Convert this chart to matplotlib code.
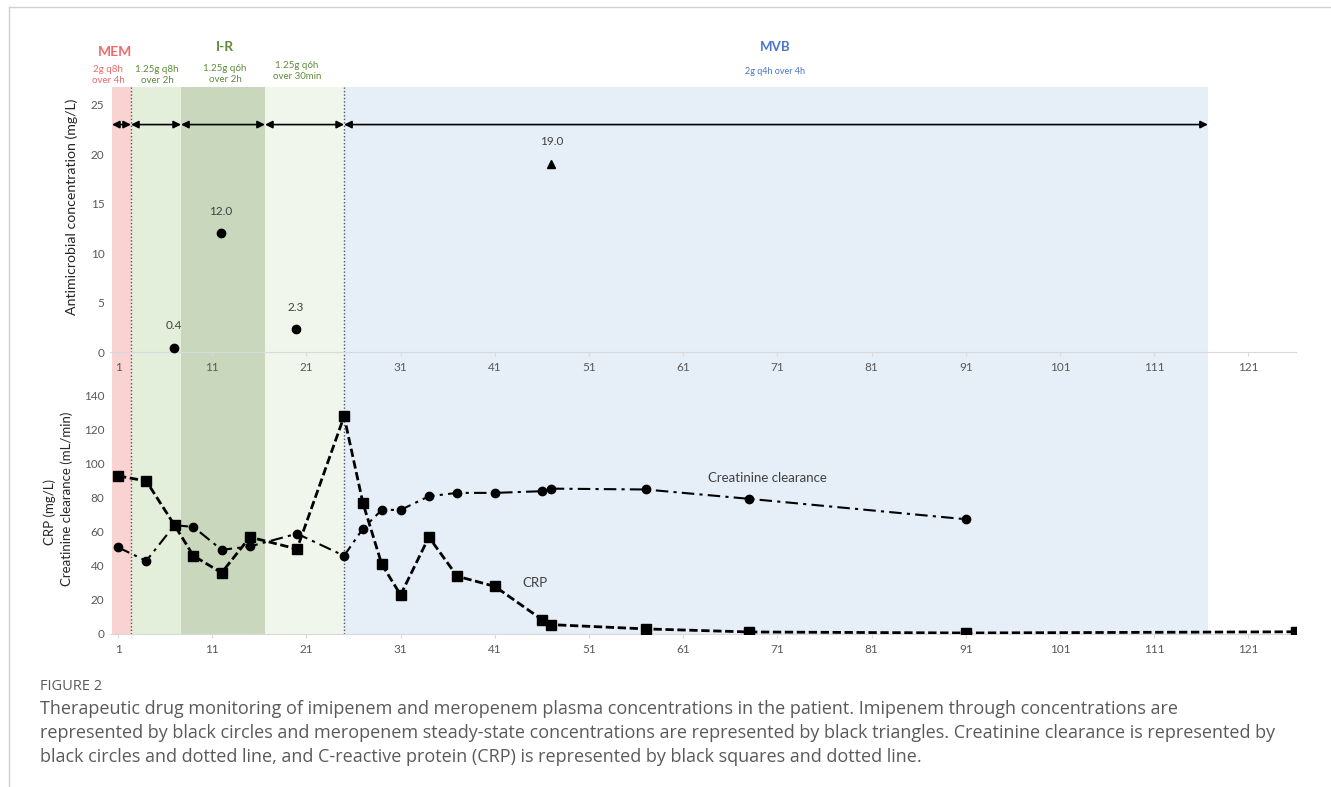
import numpy as np
import matplotlib
matplotlib.use("Agg")
import matplotlib.pyplot as plt
from matplotlib.lines import Line2D

plt.rcParams['font.family'] = ['Lato', 'DejaVu Sans']

# antimicrobial concentrations (mg/L)
imi_days = [6.9, 11.9, 19.9]
imi_conc = [0.4, 12.0, 2.3]
mero_days = [47]
mero_conc = [19.0]

# CRP (mg/L)
crp_days = [1, 4, 7, 9, 12, 15, 20, 25, 27, 29, 31, 34, 37, 41, 46, 47, 57, 68, 91, 126]
crp_vals = [93, 90, 64, 46, 36, 57, 50, 128, 77, 41, 23, 57, 34, 28, 8.5, 5.5, 3, 1.2, 0.6, 1.3]

# creatinine clearance (mL/min)
clcr_days = [1, 4, 7, 9, 12, 15, 20, 25, 27, 29, 31, 34, 37, 41, 46, 47, 57, 68, 91]
clcr_vals = [51, 43, 64, 63, 49.5, 51.5, 59, 46, 62, 73, 73, 81, 83, 83, 84, 85.5, 85, 79.5, 67.5]

# treatment periods (day boundaries) and shading colours
period_edges = [0.36, 2.38, 7.69, 16.6, 25.0, 116.7]
period_colors = ['#F9D2D2', '#E3EFDA', '#C9D8BD', '#F0F6EC', '#E6EEF8']

xticks = list(range(1, 122, 10))
W, H = 1331, 787
XMIN, XMAX = 0.15, 126.05

fig = plt.figure(figsize=(W / 100, H / 100), dpi=100)
ax_top = fig.add_axes([110 / W, 1 - 380 / H, (1296 - 110) / W, (380 - 87) / H])
ax_bot = fig.add_axes([110 / W, 1 - 634 / H, (1296 - 110) / W, (634 - 380) / H])

tick_col = '#595959'
for ax in (ax_top, ax_bot):
    for i in range(len(period_colors)):
        ax.axvspan(period_edges[i], period_edges[i + 1], color=period_colors[i], lw=0, zorder=0)
    for d in (period_edges[1], period_edges[4]):
        ax.axvline(d, color='#555555', lw=1, ls=(0, (1, 1.5)), zorder=1)
    ax.set_xlim(XMIN, XMAX)
    ax.set_xticks(xticks)
    ax.set_xticklabels([str(t) for t in xticks])
    for s in ('top', 'right', 'left'):
        ax.spines[s].set_visible(False)
    ax.spines['bottom'].set_color('#D9D9D9')
    ax.tick_params(axis='x', length=3, color='#D9D9D9', labelsize=8.5, labelcolor=tick_col, pad=4)
    ax.tick_params(axis='y', length=0, labelsize=8.5, labelcolor=tick_col, pad=4)

# top panel
ax_top.set_ylim(-2.83, 26.8)
ax_top.spines['bottom'].set_position(('data', 0))
ax_top.set_yticks([0, 5, 10, 15, 20, 25])
ax_top.plot(imi_days, imi_conc, 'o', color='black', ms=6, ls='none', zorder=3)
ax_top.plot(mero_days, mero_conc, '^', color='black', ms=6, ls='none', zorder=3)
for d, v in zip(imi_days + mero_days, imi_conc + mero_conc):
    ax_top.annotate(f'{v:.1f}', (d, v), xytext=(0, 12), textcoords='offset points',
                    ha='center', va='bottom', fontsize=8.5, color='#404040')

# dosing arrows
for a, b in zip(period_edges[:-1], period_edges[1:]):
    ax_top.annotate('', xy=(b, 23.0), xytext=(a, 23.0),
                    arrowprops=dict(arrowstyle='<|-|>', color='black', lw=1.2,
                                    mutation_scale=11, shrinkA=0, shrinkB=0))

# bottom panel
ax_bot.set_ylim(0, 149.4)
ax_bot.set_yticks(list(range(0, 141, 20)))
ax_bot.plot(crp_days, crp_vals, color='black', lw=2, ls=(0, (3, 1.3)),
            marker='s', ms=6.5, zorder=3)
ax_bot.plot(clcr_days, clcr_vals, color='black', lw=1.5, ls=(0, (6, 2.5, 1.5, 2.5)),
            marker='o', ms=6, zorder=3)
ax_bot.text(69.9, 92, 'Creatinine clearance', ha='center', va='center', fontsize=9.5, color='#404040')
ax_bot.text(45.3, 30, 'CRP', ha='center', va='center', fontsize=9.5, color='#404040')

# axis labels
lab_col = '#262626'
fig.text(72 / W, 1 - 207 / H, 'Antimicrobial concentration (mg/L)', rotation=90,
         ha='center', va='center', fontsize=10.2, color=lab_col)
fig.text(50 / W, 1 - 512 / H, 'CRP (mg/L)', rotation=90,
         ha='center', va='center', fontsize=9.5, color=lab_col)
fig.text(67 / W, 1 - 499 / H, 'Creatinine clearance (mL/min)', rotation=90,
         ha='center', va='center', fontsize=9.5, color=lab_col)

# header labels
red, green, blue = '#F06A6A', '#5E8C3A', '#4A74C9'
fig.text(115 / W, 1 - 52 / H, 'MEM', color=red, fontsize=10, fontweight='bold', ha='center', va='center')
fig.text(108 / W, 1 - 75 / H, '2g q8h\nover 4h', color=red, fontsize=7, ha='center', va='center', linespacing=1.3)
fig.text(157 / W, 1 - 75 / H, '1.25g q8h\nover 2h', color=green, fontsize=7, ha='center', va='center', linespacing=1.3)
fig.text(225 / W, 1 - 47 / H, 'I-R', color=green, fontsize=10, fontweight='bold', ha='center', va='center')
fig.text(225 / W, 1 - 74 / H, '1.25g q6h\nover 2h', color=green, fontsize=7, ha='center', va='center', linespacing=1.3)
fig.text(297 / W, 1 - 71 / H, '1.25g q6h\nover 30min', color=green, fontsize=7, ha='center', va='center', linespacing=1.3)
fig.text(775 / W, 1 - 47 / H, 'MVB', color=blue, fontsize=9.5, fontweight='bold', ha='center', va='center')
fig.text(775 / W, 1 - 72 / H, '2g q4h over 4h', color=blue, fontsize=6.5, ha='center', va='center')

# caption
cap_col = '#5a5a5a'
fig.text(40 / W, 1 - 687 / H, 'FIGURE 2', fontsize=10.5, color=cap_col, ha='left', va='center',
         family=['Open Sans', 'DejaVu Sans'])
caption = ('Therapeutic drug monitoring of imipenem and meropenem plasma concentrations in the patient. '
           'Imipenem through concentrations are\n'
           'represented by black circles and meropenem steady-state concentrations are represented by black '
           'triangles. Creatinine clearance is represented by\n'
           'black circles and dotted line, and C-reactive protein (CRP) is represented by black squares and dotted line.')
fig.text(40 / W, 1 - 700 / H, caption, fontsize=13.0, color=cap_col, ha='left', va='top',
         linespacing=1.42, family=['Open Sans', 'DejaVu Sans'])

# page border
fig.add_artist(Line2D([9 / W, 1], [1 - 7 / H, 1 - 7 / H], color='#D0D0D0', lw=1))
fig.add_artist(Line2D([9 / W, 9 / W], [0, 1 - 7 / H], color='#D0D0D0', lw=1))

fig.savefig('out.png', dpi=100, facecolor='white')
